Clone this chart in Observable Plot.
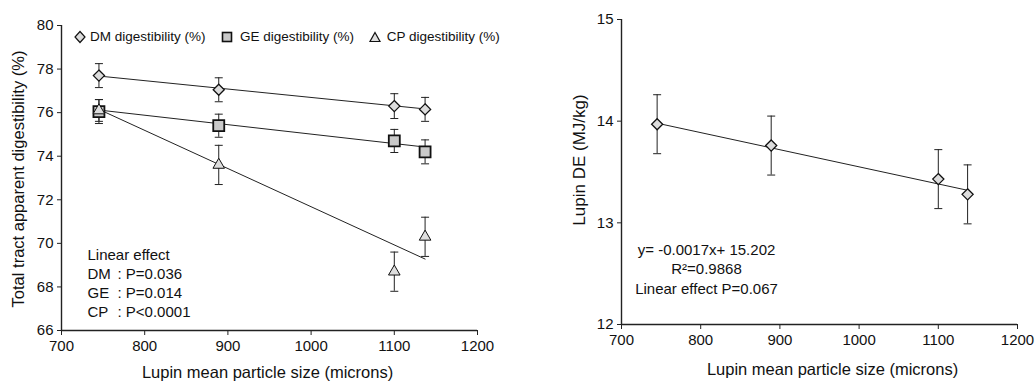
<!DOCTYPE html>
<html><head><meta charset="utf-8">
<script src="https://cdn.jsdelivr.net/npm/d3@7"></script>
<script src="https://cdn.jsdelivr.net/npm/@observablehq/plot@0.6"></script>
<style>
body{margin:0;background:#fff;font-family:"Liberation Sans",Arial,sans-serif;}
#wrap{position:relative;width:1035px;height:381px;overflow:hidden;background:#fff}
#left{position:absolute;left:0;top:0}
#right{position:absolute;left:540px;top:0}
.leg{position:absolute;font-size:13.5px;color:#111;white-space:nowrap;line-height:16px}
.legsym{position:absolute}
</style></head>
<body><div id="wrap"><div id="left"></div><div id="right"></div></div>
<script>
// ---- data ----
const sizes = [745, 889, 1100, 1137];
const dmValues = [77.7, 77.05, 76.3, 76.15];
const dmErrors = [0.55, 0.55, 0.57, 0.55];
const geValues = [76.05, 75.4, 74.7, 74.2];
const geErrors = [0.55, 0.53, 0.53, 0.55];
const cpValues = [76.1, 73.6, 68.7, 70.3];
const cpErrors = [0.5, 0.9, 0.9, 0.9];
const fitSizes = [745, 1137];
const dmFit = [77.68, 76.17];
const geFit = [76.12, 74.42];
const cpFit = [76.15, 69.28];
const deValues = [13.97, 13.76, 13.43, 13.28];
const deErrors = [0.29, 0.29, 0.29, 0.29];
const deFit = [13.98, 13.32];
const xTicks = [700, 800, 900, 1000, 1100, 1200];
const leftYTicks = [66, 68, 70, 72, 74, 76, 78, 80];
const rightYTicks = [12, 13, 14, 15];
const seriesKeys = ["DM", "GE", "CP"];
const seriesNames = ["DM digestibility (%)", "GE digestibility (%)", "CP digestibility (%)"];
const xTitle = "Lupin mean particle size (microns)";
const leftYTitle = "Total tract apparent digestibility (%)";
const rightYTitle = "Lupin DE (MJ/kg)";
const leftNotes = ["Linear effect", "DM", "GE", "CP"];
const leftNoteValues = ["", ": P=0.036", ": P=0.014", ": P<0.0001"];
const rightNotes = ["y= -0.0017x+ 15.202", "R²=0.9868", "Linear effect P=0.067"];

// ---- build tables ----
const seriesData = {DM: [dmValues, dmErrors, dmFit], GE: [geValues, geErrors, geFit], CP: [cpValues, cpErrors, cpFit]};
const pts = seriesKeys.flatMap(k => sizes.map((x, i) => ({series: k, x, y: seriesData[k][0][i], e: seriesData[k][1][i]})));
const fits = seriesKeys.flatMap(k => fitSizes.map((x, i) => ({series: k, x, y: seriesData[k][2][i]})));
const dePts = sizes.map((x, i) => ({x, y: deValues[i], e: deErrors[i]}));
const deFits = fitSizes.map((x, i) => ({x, y: deFit[i]}));

const sty = {
  DM: {symbol: "diamond2", r: 5, fill: "#dcdcdc", stroke: "#111", strokeWidth: 1.3},
  GE: {symbol: "square", r: 6.2, fill: "#c9c9c9", stroke: "#111", strokeWidth: 1.8},
  CP: {symbol: "triangle", r: 4.3, fill: "#dedede", stroke: "#111", strokeWidth: 1}
};
const cap = {draw(ctx) { ctx.moveTo(-4, 0); ctx.lineTo(4, 0); }};
const font = '"Liberation Sans", Arial, sans-serif';
const baseStyle = {fontFamily: font, color: "#111", background: "white", overflow: "visible"};

function errMarks(data) {
  return [
    Plot.ruleX(data, {x: "x", y1: d => d.y - d.e, y2: d => d.y + d.e, stroke: "#222", strokeWidth: 1}),
    Plot.dot(data, {x: "x", y: d => d.y + d.e, symbol: cap, r: 1, fill: "none", stroke: "#222", strokeWidth: 1}),
    Plot.dot(data, {x: "x", y: d => d.y - d.e, symbol: cap, r: 1, fill: "none", stroke: "#222", strokeWidth: 1})
  ];
}
function axes(yTicks, xDom, yDom) {
  return [
    Plot.axisX({ticks: xTicks, tickSize: 5, tickPadding: 5, tickFormat: d => String(d), label: null, fontSize: 15, stroke: "#222"}),
    Plot.axisY({ticks: yTicks, tickSize: 4, tickPadding: 4, tickFormat: d => String(d), label: null, fontSize: 15, stroke: "#222"}),
    Plot.ruleX([xDom[0]], {stroke: "#222", strokeWidth: 1.4}),
    Plot.ruleY([yDom[0]], {stroke: "#222", strokeWidth: 1.4})
  ];
}

// ---- left chart ----
const leftX = [700, 1200], leftY = [66, 80];
const left = Plot.plot({
  width: 540, height: 381, marginLeft: 61, marginRight: 63, marginTop: 25, marginBottom: 51,
  x: {domain: leftX}, y: {domain: leftY},
  style: baseStyle,
  marks: [
    ...errMarks(pts),
    Plot.line(fits, {x: "x", y: "y", z: "series", stroke: "#222", strokeWidth: 1}),
    ...seriesKeys.map(k => Plot.dot(pts.filter(d => d.series === k), {x: "x", y: "y", ...sty[k]})),
    ...axes(leftYTicks, leftX, leftY),
    Plot.text([xTitle], {text: d => d, frameAnchor: "bottom", textAnchor: "middle", dx: -2, dy: 47.5, fontSize: 16.5}),
    Plot.text([leftYTitle], {text: d => d, frameAnchor: "left", textAnchor: "middle", rotate: -90, dx: -43, dy: 1, fontSize: 16.5}),
    Plot.text([leftNotes.join("\n")], {text: d => d, frameAnchor: "bottom-left", textAnchor: "start", lineAnchor: "bottom", lineHeight: 1.27, dx: 26, dy: -13.5, fontSize: 15}),
    Plot.text([leftNoteValues.join("\n")], {text: d => d, frameAnchor: "bottom-left", textAnchor: "start", lineAnchor: "bottom", lineHeight: 1.27, dx: 56, dy: -13.5, fontSize: 15})
  ]
});
document.getElementById("left").appendChild(left);

// legend (HTML overlay)
const legSymX = [80, 226.5, 375];
const legTextX = [90, 240, 386.7];
const wrap = document.getElementById("wrap");
seriesKeys.forEach((k, i) => {
  const s = document.createElementNS("http://www.w3.org/2000/svg", "svg");
  s.setAttribute("width", 14); s.setAttribute("height", 14);
  s.setAttribute("class", "legsym");
  s.style.left = (legSymX[i] - 7) + "px"; s.style.top = (37 - 7) + "px";
  let shape;
  if (k === "DM") { shape = document.createElementNS(s.namespaceURI, "polygon"); shape.setAttribute("points", "7,1.5 12,7 7,12.5 2,7"); }
  if (k === "GE") { shape = document.createElementNS(s.namespaceURI, "rect"); shape.setAttribute("x", 2.5); shape.setAttribute("y", 2.5); shape.setAttribute("width", 9); shape.setAttribute("height", 9); }
  if (k === "CP") { shape = document.createElementNS(s.namespaceURI, "polygon"); shape.setAttribute("points", "7,2.5 12,11.5 2,11.5"); }
  shape.setAttribute("fill", sty[k].fill); shape.setAttribute("stroke", "#111"); shape.setAttribute("stroke-width", k === "GE" ? 1.6 : 1.2);
  s.appendChild(shape);
  wrap.appendChild(s);
  const t = document.createElement("div");
  t.className = "leg"; t.textContent = seriesNames[i];
  t.style.left = legTextX[i] + "px"; t.style.top = (37 - 8.5) + "px";
  wrap.appendChild(t);
});

// ---- right chart ----
const rightX = [700, 1200], rightY = [12, 15];
const right = Plot.plot({
  width: 495, height: 381, marginLeft: 81, marginRight: 18, marginTop: 19, marginBottom: 57,
  x: {domain: rightX}, y: {domain: rightY},
  style: baseStyle,
  marks: [
    ...errMarks(dePts),
    Plot.line(deFits, {x: "x", y: "y", stroke: "#222", strokeWidth: 1}),
    Plot.dot(dePts, {x: "x", y: "y", ...sty.DM}),
    ...axes(rightYTicks, rightX, rightY),
    Plot.text([xTitle], {text: d => d, frameAnchor: "bottom", textAnchor: "middle", dx: 13, dy: 50.5, fontSize: 16.5}),
    Plot.text([rightYTitle], {text: d => d, frameAnchor: "left", textAnchor: "middle", rotate: -90, dx: -42, dy: -12, fontSize: 17}),
    Plot.text([rightNotes.join("\n")], {text: d => d, frameAnchor: "bottom-left", textAnchor: "middle", lineAnchor: "bottom", lineHeight: 1.27, dx: 85, dy: -31, fontSize: 15})
  ]
});
document.getElementById("right").appendChild(right);
</script>
</body></html>
